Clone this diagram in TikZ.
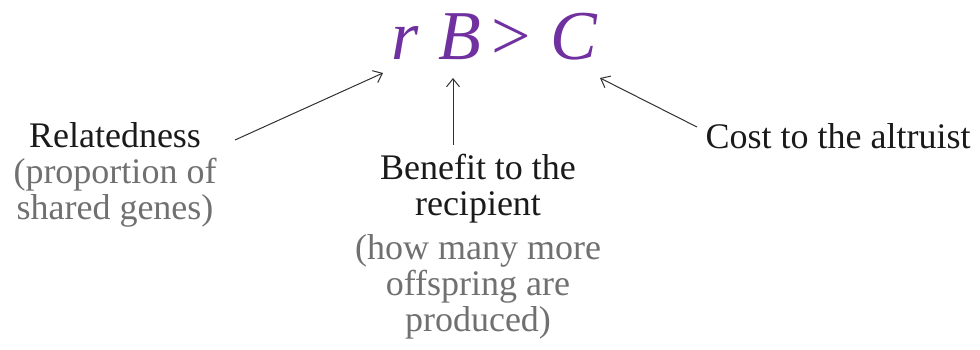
\documentclass[tikz,border=0pt]{standalone}
\usepackage{fontspec}
\newfontfamily\lblfont{Liberation Serif}
\usetikzlibrary{arrows.meta}
\definecolor{purp}{HTML}{7030A0}
\definecolor{txt}{HTML}{1A1A1A}
\definecolor{sub}{HTML}{707070}
\tikzset{
  lbl/.style={inner sep=0pt, align=center, text=txt, font=\lblfont\fontsize{36}{36}\selectfont},
  conn/.style={draw=txt!90, line width=1pt, -{Straight Barb[length=8pt,width=13pt]}}
}
\begin{document}
\begin{tikzpicture}[x=1pt,y=-1pt]
\useasboundingbox (0,0) rectangle (980,350);
\node[inner sep=0pt, anchor=base west, text=purp, font=\lblfont\fontsize{70}{70}\selectfont] (eq) at (391,60)
  {\textit{r}\hspace{20pt}\textit{B}\hspace{10pt}\textgreater\hspace{20pt}\textit{C}};
\node[lbl, anchor=north] (rel) at (115,122) {Relatedness\\\textcolor{sub}{(proportion of}\\\textcolor{sub}{shared genes)}};
\node[lbl, anchor=north] (ben) at (478,154) {Benefit to the\\recipient\\[8pt]\textcolor{sub}{(how many more}\\\textcolor{sub}{offspring are}\\\textcolor{sub}{produced)}};
\node[lbl, anchor=north] (cost) at (838,123) {Cost to the altruist};
\coordinate (t1) at (235,140);
\coordinate (h1) at (383,73);
\coordinate (t2) at (453,145);
\coordinate (h2) at (453,78);
\coordinate (t3) at (697,127);
\coordinate (h3) at (600,78);
\draw[conn] (t1) -- (h1);
\draw[conn] (t2) -- (h2);
\draw[conn] (t3) -- (h3);
\end{tikzpicture}
\end{document}
